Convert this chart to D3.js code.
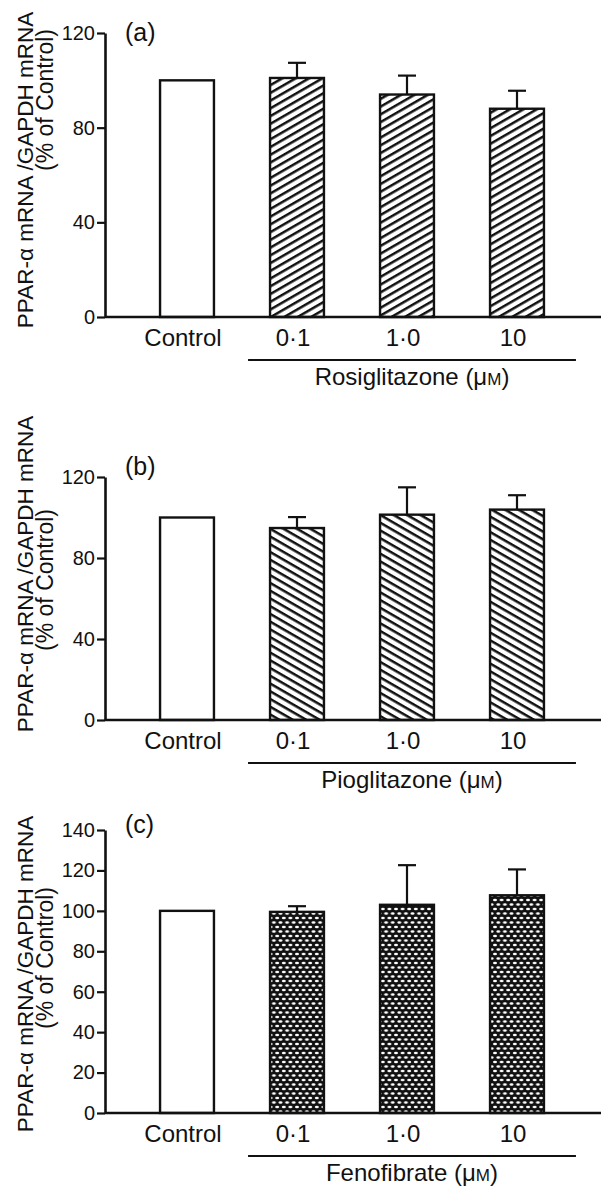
<!DOCTYPE html>
<html>
<head>
<meta charset="utf-8">
<script src="https://cdn.jsdelivr.net/npm/d3@7"></script>
<style>
  body { margin: 0; background: #fff; }
  text { font-family: "Liberation Sans", Arial, sans-serif; fill: #111; }
</style>
</head>
<body>
<svg width="603" height="1188"></svg>
<script>
(function () {
    'use strict';

    // data (% of control, mean and SEM)
    var categories = ['Control', '0·1', '1·0', '10'];
    var drugs = ['Rosiglitazone', 'Pioglitazone', 'Fenofibrate'];
    var panelTags = ['(a)', '(b)', '(c)'];

    var rosiMean = [100, 101, 94, 88];
    var rosiSem = [0, 6.4, 8, 7.6];
    var pioMean = [100, 94.8, 101.4, 103.9];
    var pioSem = [0, 5.4, 13.5, 7.1];
    var fenoMean = [100, 99.5, 103, 107.7];
    var fenoSem = [0, 2.8, 19.6, 12.8];

    var ticksAB = [0, 40, 80, 120];
    var ticksC = [0, 20, 40, 60, 80, 100, 120, 140];

    var svg = d3.select('svg');

    // hatch fills
    var defs = svg.append('defs');
    var p1 = defs.append('pattern')
        .attr('id', 'hatchUp')
        .attr('patternUnits', 'userSpaceOnUse')
        .attr('width', 20).attr('height', 6.7)
        .attr('patternTransform', 'rotate(-30)');
    p1.append('rect').attr('width', 20).attr('height', 6.7).attr('fill', '#fff');
    p1.append('rect').attr('y', 0).attr('width', 20).attr('height', 2.5).attr('fill', '#111');

    var p2 = defs.append('pattern')
        .attr('id', 'hatchDown')
        .attr('patternUnits', 'userSpaceOnUse')
        .attr('width', 20).attr('height', 6.7)
        .attr('patternTransform', 'rotate(30)');
    p2.append('rect').attr('width', 20).attr('height', 6.7).attr('fill', '#fff');
    p2.append('rect').attr('y', 0).attr('width', 20).attr('height', 2.5).attr('fill', '#111');

    var pw = 6.6, ph = 9;
    var p3 = defs.append('pattern')
        .attr('id', 'cross')
        .attr('patternUnits', 'userSpaceOnUse')
        .attr('width', pw).attr('height', ph);
    p3.append('rect').attr('width', pw).attr('height', ph).attr('fill', '#111');
    [[0, 0], [pw, 0], [0, ph], [pw, ph], [pw / 2, ph / 2]].forEach(function (c) {
        p3.append('ellipse')
            .attr('cx', c[0]).attr('cy', c[1])
            .attr('rx', 2.0).attr('ry', 1.25)
            .attr('fill', '#fff');
    });

    var panels = [
        { mean: rosiMean, sem: rosiSem, ticks: ticksAB, y0: 317, y1: 33, fill: 'url(#hatchUp)', tagDy: 8, title1: 170, title2: 100 },
        { mean: pioMean, sem: pioSem, ticks: ticksAB, y0: 720, y1: 477, fill: 'url(#hatchDown)', tagDy: -2, title1: 574, title2: 580 },
        { mean: fenoMean, sem: fenoSem, ticks: ticksC, y0: 1113, y1: 830, fill: 'url(#cross)', tagDy: 3, title1: 974, title2: 958 }
    ];

    var axisX = 105;
    var axisEnd = 601;

    var x = d3.scaleBand()
        .domain(categories)
        .range([132, 572])
        .paddingInner(0.51)
        .paddingOuter(0.255);
    var bw = x.bandwidth();

    panels.forEach(function (p, i) {
        var y = d3.scaleLinear()
            .domain([0, d3.max(p.ticks)])
            .range([p.y0, p.y1]);

        var g = svg.append('g');

        // y title
        g.append('text')
            .attr('transform', 'translate(33,' + p.title1 + ') rotate(-90)')
            .attr('text-anchor', 'middle')
            .style('font-size', '22.5px')
            .text('PPAR-α mRNA /GAPDH mRNA');
        g.append('text')
            .attr('transform', 'translate(53,' + p.title2 + ') rotate(-90)')
            .attr('text-anchor', 'middle')
            .style('font-size', '23px')
            .text('(% of Control)');

        // bars
        g.selectAll('rect.bar')
            .data(categories)
            .enter().append('rect')
            .attr('class', 'bar')
            .attr('x', function (d) { return x(d); })
            .attr('y', function (d, j) { return y(p.mean[j]); })
            .attr('width', bw)
            .attr('height', function (d, j) { return y(0) - y(p.mean[j]); })
            .attr('fill', function (d, j) { return j === 0 ? '#fff' : p.fill; })
            .attr('stroke', '#111')
            .attr('stroke-width', 2.4);

        // error bars (upper only)
        var eb = g.selectAll('g.err')
            .data(categories.slice(1))
            .enter().append('g')
            .attr('class', 'err');
        eb.append('line')
            .attr('x1', function (d) { return x(d) + bw / 2; })
            .attr('x2', function (d) { return x(d) + bw / 2; })
            .attr('y1', function (d, j) { return y(p.mean[j + 1]); })
            .attr('y2', function (d, j) { return y(p.mean[j + 1] + p.sem[j + 1]); })
            .attr('stroke', '#111').attr('stroke-width', 2.2);
        eb.append('line')
            .attr('x1', function (d) { return x(d) + bw / 2 - 9; })
            .attr('x2', function (d) { return x(d) + bw / 2 + 9; })
            .attr('y1', function (d, j) { return y(p.mean[j + 1] + p.sem[j + 1]); })
            .attr('y2', function (d, j) { return y(p.mean[j + 1] + p.sem[j + 1]); })
            .attr('stroke', '#111').attr('stroke-width', 2.2);

        // y axis
        var ya = g.append('g')
            .attr('transform', 'translate(' + axisX + ',0)')
            .call(d3.axisLeft(y).tickValues(p.ticks).tickSize(8).tickPadding(2).tickSizeOuter(0));
        ya.select('.domain').attr('stroke', '#111').attr('stroke-width', 2.6);
        ya.selectAll('.tick line').attr('stroke', '#111').attr('stroke-width', 2.2);
        ya.selectAll('.tick text')
            .style('font-size', '20px')
            .style('font-family', '"Liberation Sans", Arial, sans-serif')
            .attr('fill', '#111');

        // x axis baseline
        g.append('line')
            .attr('x1', axisX).attr('x2', axisEnd)
            .attr('y1', y(0)).attr('y2', y(0))
            .attr('stroke', '#111').attr('stroke-width', 2.6);

        // panel tag
        g.append('text')
            .attr('x', 125).attr('y', p.y1 + p.tagDy)
            .style('font-size', '25px')
            .text(panelTags[i]);

        // category labels
        g.selectAll('text.cat')
            .data(categories)
            .enter().append('text')
            .attr('class', 'cat')
            .attr('x', function (d) { return x(d) + bw / 2 - 4; })
            .attr('y', y(0) + 29)
            .attr('text-anchor', 'middle')
            .style('font-size', '24px')
            .text(function (d) { return d; });

        // treatment bracket
        g.append('line')
            .attr('x1', x(categories[1]) - 22)
            .attr('x2', x(categories[3]) + bw + 32)
            .attr('y1', y(0) + 43).attr('y2', y(0) + 43)
            .attr('stroke', '#111').attr('stroke-width', 1.8);

        var dl = g.append('text')
            .attr('x', (x(categories[1]) - 22 + x(categories[3]) + bw + 32) / 2)
            .attr('y', y(0) + 68)
            .attr('text-anchor', 'middle')
            .style('font-size', '24px');
        dl.append('tspan').text(drugs[i] + ' (μ');
        dl.append('tspan').style('font-size', '17px').text('M');
        dl.append('tspan').text(')');
    });

}());
</script>
</body>
</html>
